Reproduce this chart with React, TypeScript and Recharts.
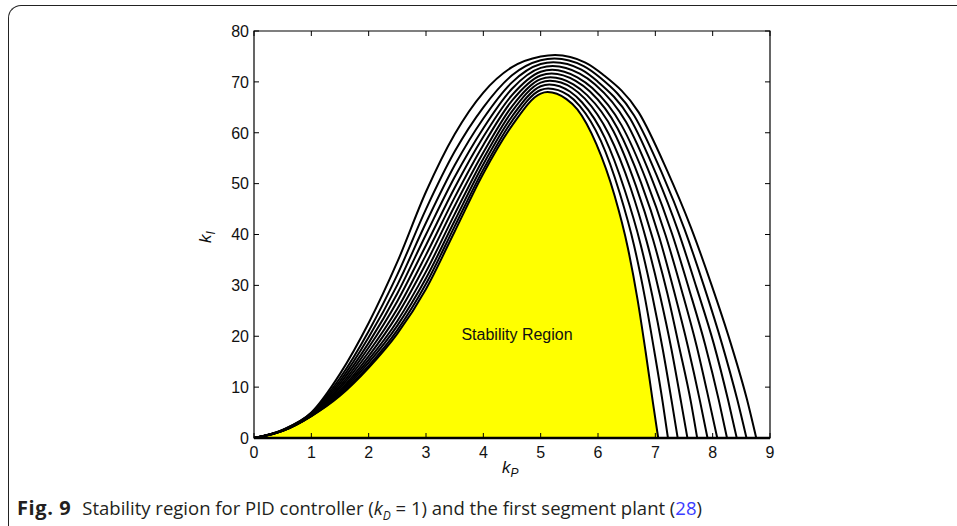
import {
  ComposedChart,
  Line,
  Area,
  XAxis,
  YAxis,
  ReferenceArea,
  ReferenceLine,
} from "recharts";

// stability boundaries (kP, kI), innermost first
const boundary0 = [[0, 0], [0.5, 1.4], [1, 4.3], [1.5, 8.3], [2, 13.8], [2.5, 20.5], [3, 29.3], [3.5, 40.6], [4, 52.0], [4.5, 61.4], [5, 67.7], [5.12, 68.0], [5.45, 66.6], [5.64, 64.6], [5.97, 57.8], [6.29, 47.6], [6.52, 37.4], [6.69, 27.2], [6.83, 17.0], [6.96, 6.8], [7.05, 0]];
const boundary1 = [[0, 0], [0.5, 1.4], [1, 4.3], [1.5, 8.5], [2, 14.2], [2.5, 21.2], [3, 30.3], [3.5, 41.6], [4, 52.8], [4.5, 62.3], [5, 68.4], [5.13, 68.7], [5.48, 67.4], [5.68, 65.3], [6.05, 58.4], [6.38, 48.1], [6.63, 37.8], [6.82, 27.5], [6.98, 17.2], [7.13, 6.9], [7.22, 0]];
const boundary2 = [[0, 0], [0.5, 1.4], [1, 4.4], [1.5, 8.8], [2, 14.8], [2.5, 22.1], [3, 31.4], [3.5, 42.7], [4, 53.8], [4.5, 63.2], [5, 69.15], [5.15, 69.5], [5.51, 68.1], [5.72, 66.0], [6.12, 59.0], [6.47, 48.6], [6.74, 38.2], [6.95, 27.8], [7.13, 17.4], [7.29, 6.9], [7.39, 0]];
const boundary3 = [[0, 0], [0.5, 1.4], [1, 4.4], [1.5, 9.1], [2, 15.4], [2.5, 23.0], [3, 32.7], [3.5, 44.0], [4, 54.9], [4.5, 64.2], [5, 69.85], [5.16, 70.2], [5.55, 68.8], [5.77, 66.7], [6.19, 59.7], [6.57, 49.1], [6.85, 38.6], [7.08, 28.1], [7.28, 17.5], [7.45, 7.0], [7.56, 0]];
const boundary4 = [[0, 0], [0.5, 1.5], [1, 4.5], [1.5, 9.4], [2, 16.1], [2.5, 24.2], [3, 34.3], [3.5, 45.6], [4, 56.1], [4.5, 65.2], [5, 70.55], [5.17, 70.9], [5.57, 69.5], [5.81, 67.4], [6.27, 60.3], [6.66, 49.6], [6.96, 39.0], [7.21, 28.4], [7.42, 17.7], [7.62, 7.1], [7.73, 0]];
const boundary5 = [[0, 0], [0.5, 1.5], [1, 4.5], [1.5, 9.8], [2, 16.9], [2.5, 25.4], [3, 36.0], [3.5, 47.3], [4, 57.6], [4.5, 66.3], [5, 71.25], [5.19, 71.65], [5.61, 70.2], [5.86, 68.1], [6.34, 60.9], [6.75, 50.2], [7.07, 39.4], [7.33, 28.7], [7.57, 17.9], [7.78, 7.2], [7.91, 0]];
const boundary6 = [[0, 0], [0.5, 1.5], [1, 4.6], [1.5, 10.2], [2, 17.8], [2.5, 26.9], [3, 37.9], [3.5, 49.2], [4, 59.2], [4.5, 67.4], [5, 72.0], [5.2, 72.4], [5.64, 70.9], [5.9, 68.8], [6.41, 61.5], [6.84, 50.7], [7.18, 39.8], [7.46, 29.0], [7.72, 18.1], [7.94, 7.2], [8.08, 0]];
const boundary7 = [[0, 0], [0.5, 1.5], [1, 4.7], [1.5, 10.7], [2, 18.7], [2.5, 28.4], [3, 40.0], [3.5, 51.3], [4, 60.9], [4.5, 68.65], [5, 72.75], [5.21, 73.1], [5.68, 71.6], [5.95, 69.5], [6.49, 62.1], [6.93, 51.2], [7.29, 40.2], [7.59, 29.2], [7.87, 18.3], [8.11, 7.3], [8.25, 0]];
const boundary8 = [[0, 0], [0.5, 1.5], [1, 4.8], [1.5, 11.2], [2, 19.8], [2.5, 30.1], [3, 42.3], [3.5, 53.6], [4, 62.8], [4.5, 69.9], [5, 73.5], [5.22, 73.85], [5.71, 72.4], [5.99, 70.1], [6.56, 62.8], [7.02, 51.7], [7.4, 40.6], [7.72, 29.5], [8.02, 18.5], [8.27, 7.4], [8.42, 0]];
const boundary9 = [[0, 0], [0.5, 1.6], [1, 4.9], [1.5, 11.8], [2, 21.0], [2.5, 32.1], [3, 45.0], [3.5, 56.3], [4, 65.0], [4.5, 71.3], [5, 74.25], [5.24, 74.6], [5.75, 73.1], [6.04, 70.8], [6.63, 63.4], [7.11, 52.2], [7.51, 41.0], [7.85, 29.8], [8.16, 18.6], [8.43, 7.5], [8.59, 0]];
const boundary10 = [[0, 0], [0.5, 1.6], [1, 5.0], [1.5, 12.6], [2, 22.6], [2.5, 34.6], [3, 48.4], [3.5, 59.7], [4, 67.9], [4.5, 72.9], [5, 75.0], [5.25, 75.3], [5.78, 73.8], [6.08, 71.5], [6.71, 64.0], [7.2, 52.7], [7.62, 41.4], [7.98, 30.1], [8.31, 18.8], [8.6, 7.5], [8.76, 0]];

const boundaries = [boundary0, boundary1, boundary2, boundary3, boundary4, boundary5, boundary6, boundary7, boundary8, boundary9, boundary10];

const kpTicks = [0, 1, 2, 3, 4, 5, 6, 7, 8, 9];
const kiTicks = [0, 10, 20, 30, 40, 50, 60, 70, 80];

const toPoints = (pts: number[][]) => pts.map(([kp, ki]) => ({ kp, ki }));

// plot box in page pixels
const PLOT_LEFT = 254;
const PLOT_RIGHT = 770;
const PLOT_TOP = 31;
const PLOT_BOTTOM = 438;
const W = 957;
const H = 526;

const tickFont = '"Liberation Sans", Arial, sans-serif';

const renderXTick = (props: any) => {
  const { x, payload } = props;
  return (
    <g key={`xt-${payload.value}`}>
      <line x1={x} y1={PLOT_BOTTOM} x2={x} y2={PLOT_BOTTOM - 5} stroke="#000" strokeWidth={1} />
      <line x1={x} y1={PLOT_TOP} x2={x} y2={PLOT_TOP + 5} stroke="#000" strokeWidth={1} />
      <text x={x} y={PLOT_BOTTOM + 19.5} textAnchor="middle" fontSize={16} fontFamily={tickFont} fill="#111">
        {payload.value}
      </text>
    </g>
  );
};

const renderYTick = (props: any) => {
  const { y, payload } = props;
  return (
    <g key={`yt-${payload.value}`}>
      <line x1={PLOT_LEFT} y1={y} x2={PLOT_LEFT + 5} y2={y} stroke="#000" strokeWidth={1} />
      <line x1={PLOT_RIGHT} y1={y} x2={PLOT_RIGHT - 5} y2={y} stroke="#000" strokeWidth={1} />
      <text x={PLOT_LEFT - 5} y={y + 5.8} textAnchor="end" fontSize={16} fontFamily={tickFont} fill="#111">
        {payload.value}
      </text>
    </g>
  );
};

export default function App() {
  return (
    <div style={{ position: "fixed", left: 0, top: 0, width: W, height: H, overflow: "hidden", background: "#fff" }}>
      {/* figure frame */}
      <div
        style={{
          position: "absolute",
          left: 8,
          top: 5,
          width: 1100,
          height: 700,
          borderTop: "1.5px solid #222",
          borderLeft: "1.5px solid #222",
          borderTopLeftRadius: 13,
        }}
      />

      <div style={{ position: "absolute", left: 0, top: 0 }}>
        <ComposedChart
          width={W}
          height={H}
          margin={{ top: PLOT_TOP, left: PLOT_LEFT - 1, right: W - PLOT_RIGHT, bottom: H - PLOT_BOTTOM - 1 }}
        >
          <XAxis
            type="number"
            dataKey="kp"
            domain={[0, 9]}
            ticks={kpTicks}
            allowDataOverflow
            height={1}
            tickLine={false}
            axisLine={false}
            tick={renderXTick}
            interval={0}
          />
          <YAxis
            type="number"
            domain={[0, 80]}
            ticks={kiTicks}
            allowDataOverflow
            width={1}
            tickLine={false}
            axisLine={false}
            tick={renderYTick}
            interval={0}
          />
          <Area
            data={toPoints(boundary0)}
            dataKey="ki"
            type="monotone"
            fill="#ffff00"
            fillOpacity={1}
            stroke="none"
            isAnimationActive={false}
            dot={false}
            activeDot={false}
          />
          {boundaries.map((b, i) => (
            <Line
              key={i}
              data={toPoints(b)}
              dataKey="ki"
              type="monotone"
              stroke="#000"
              strokeWidth={2}
              dot={false}
              activeDot={false}
              isAnimationActive={false}
            />
          ))}
          <ReferenceLine y={0} stroke="#000" strokeWidth={2.6} />
          <ReferenceArea x1={0} x2={9} y1={0} y2={80} fill="none" stroke="#000" strokeWidth={1.2} />
        </ComposedChart>
      </div>

      {/* axis titles and region label */}
      <svg width={W} height={H} style={{ position: "absolute", left: 0, top: 0, pointerEvents: "none" }}>
        <text x={502} y={473} fontSize={17} fontFamily={tickFont} fontStyle="italic" fill="#111">
          k
          <tspan fontSize={12} fontStyle="italic" dy={4}>P</tspan>
        </text>
        <g transform="rotate(-90 211 243)">
          <text x={211} y={243} fontSize={17} fontFamily={tickFont} fontStyle="italic" fill="#111">
            k
            <tspan fontSize={12} fontStyle="italic" dy={4}>I</tspan>
          </text>
        </g>
        <text x={517} y={340} textAnchor="middle" fontSize={16} fontFamily={tickFont} fill="#111">
          Stability Region
        </text>
      </svg>

      {/* caption */}
      <div
        style={{
          position: "absolute",
          left: 17,
          top: 494,
          fontFamily: '"Open Sans", sans-serif',
          fontSize: 18.5,
          color: "#231f20",
          whiteSpace: "nowrap",
        }}
      >
        <b style={{ marginRight: 11, fontSize: 20, letterSpacing: 0.6 }}>Fig. 9</b>
        Stability region for PID controller (<i>k</i>
        <sub style={{ fontSize: 12, fontStyle: "italic" }}>D</sub> = 1) and the first segment plant (
        <span style={{ color: "#3c3cff" }}>28</span>)
      </div>
    </div>
  );
}
